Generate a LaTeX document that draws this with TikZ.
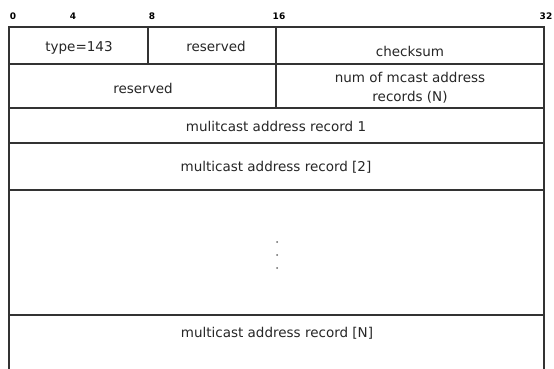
\documentclass[tikz,border=0pt]{standalone}
\usepackage{fontspec}
\setmainfont{DejaVu Sans}
\usepackage{tikz}

\begin{document}
\begin{tikzpicture} [x=1pt, y=-1pt,
					    frame/.style = {draw, line width=1.3pt, color=black!80},
					    field/.style = {font=\fontsize{13.5}{19}\selectfont,
					    align=center,
					    text=black!85,
					    inner sep=0pt},
					    bit/.style = {font=\fontsize{9}{10}\selectfont\bfseries,
					    inner sep=0pt}]
					\useasboundingbox (0,0) rectangle (554,369);
					
					% bit numbers
					\node (b0) at (13,16) [bit] {0};
					\node (b4) at (73,16) [bit] {4};
					\node (b8) at (152,16) [bit] {8};
					\node (b16) at (279,16) [bit] {16};
					\node (b32) at (546,16) [bit] {32};
					
					% frame
					\draw [frame] (9,369) -- (9,27) -- (544,27) -- (544,369);
					\foreach \y in {64,108,143,190,315}
						\draw [frame] (9,\y) -- (544,\y);
					\draw [frame] (148,27) -- (148,64);
					\draw [frame] (276,27) -- (276,108);
					
					% fields
					\node (type) at (79,48) [field] {type=143};
					\node (res1) at (216,46) [field] {reserved};
					\node (chk) at (410,51) [field] {checksum};
					\node (res2) at (143,88) [field] {reserved};
					\node (num) at (410,88) [field] {num of mcast address\\records (N)};
					\node (rec1) at (276,126) [field] {mulitcast address record 1};
					\node (rec2) at (276,167) [field] {multicast address record [2]};
					\node (recN) at (277,333) [field] {multicast address record [N]};
					
					% dots
					\foreach \y in {242,255,268}
						\fill [black!60] (277,\y) circle (1pt);
				\end{tikzpicture}
\end{document}
